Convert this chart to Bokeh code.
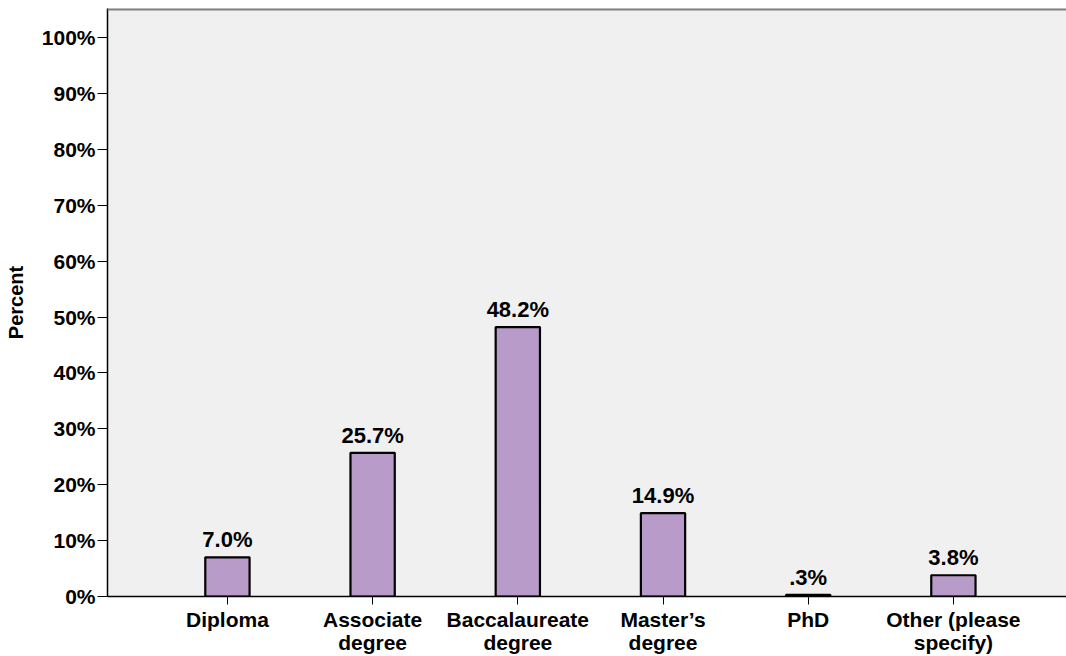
from bokeh.plotting import figure
from bokeh.models import ColumnDataSource, Range1d, FixedTicker, Span, LabelSet
from bokeh.core.properties import value
from bokeh.embed import file_html
from bokeh.resources import INLINE

categories = ["Diploma", "Associate\ndegree", "Baccalaureate\ndegree", "Master\u2019s\ndegree", "PhD", "Other (please\nspecify)"]
percents = [7.0, 25.7, 48.2, 14.9, 0.3, 3.8]
value_labels = ["7.0%", "25.7%", "48.2%", "14.9%", ".3%", "3.8%"]
y_ticks = [0, 10, 20, 30, 40, 50, 60, 70, 80, 90, 100]
y_tick_labels = ["0%", "10%", "20%", "30%", "40%", "50%", "60%", "70%", "80%", "90%", "100%"]

FONT = "Liberation Sans"
xs = list(range(len(categories)))
src = ColumnDataSource(dict(x=xs, top=percents, lab=value_labels))

Y_END = 105.2
p = figure(width=1066, height=656, output_backend="svg", toolbar_location=None,
           x_range=Range1d(-0.826, 5.779), y_range=Range1d(0, Y_END),
           min_border_left=107, min_border_right=0, min_border_top=8, min_border_bottom=60)
p.background_fill_color = "#f0f0f0"
p.border_fill_color = "white"
p.outline_line_color = None
p.grid.visible = False

p.vbar(x="x", top="top", width=0.305, bottom=0, source=src,
       fill_color="#b89bc8", line_color="black", line_width=2.2)

labels = LabelSet(x="x", y="top", text="lab", source=src, text_align="center",
                  text_baseline="bottom", y_offset=5, text_font=value(FONT),
                  text_font_size="22px", text_font_style="bold", text_color="black")
p.add_layout(labels)

top_line = Span(location=Y_END, dimension="width", line_color="#808080", line_width=4)
p.add_layout(top_line)

# x axis
p.xaxis.ticker = FixedTicker(ticks=xs)
p.xaxis.major_label_overrides = {i: c for i, c in zip(xs, categories)}
p.xaxis.minor_tick_line_color = None
p.xaxis.major_tick_in = 0
p.xaxis.major_tick_out = 8
p.xaxis.major_tick_line_color = "black"
p.xaxis.axis_line_color = "black"
p.xaxis.axis_line_width = 1.5
p.xaxis.major_label_standoff = 3
p.xaxis.major_label_text_font = FONT
p.xaxis.major_label_text_font_size = "21px"
p.xaxis.major_label_text_font_style = "bold"
p.xaxis.major_label_text_color = "black"
p.xaxis.major_label_text_line_height = 1.0

# y axis
p.yaxis.ticker = FixedTicker(ticks=y_ticks)
p.yaxis.major_label_overrides = {t: l for t, l in zip(y_ticks, y_tick_labels)}
p.yaxis.minor_tick_line_color = None
p.yaxis.major_tick_in = 0
p.yaxis.major_tick_out = 10
p.yaxis.major_tick_line_color = "black"
p.yaxis.axis_line_color = "black"
p.yaxis.axis_line_width = 1.5
p.yaxis.major_label_standoff = 2
p.yaxis.major_label_text_font = FONT
p.yaxis.major_label_text_font_size = "21px"
p.yaxis.major_label_text_font_style = "bold"
p.yaxis.major_label_text_color = "black"
p.yaxis.axis_label = "Percent"
p.yaxis.axis_label_text_font = FONT
p.yaxis.axis_label_text_font_size = "20px"
p.yaxis.axis_label_text_font_style = "bold"
p.yaxis.axis_label_text_color = "black"
p.yaxis.axis_label_standoff = 12

open("out.html", "w").write(file_html(p, INLINE))
